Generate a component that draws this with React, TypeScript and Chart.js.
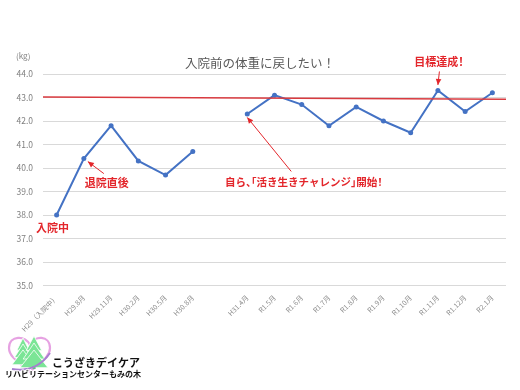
import React, { useEffect, useRef } from "react";
import { Chart, registerables } from "chart.js";

Chart.register(...registerables);

const categories = [
  "H29（入院中）", "H29.8月", "H29.11月", "H30.2月", "H30.5月", "H30.8月", "",
  "H31.4月", "R1.5月", "R1.6月", "R1.7月", "R1.8月", "R1.9月", "R1.10月", "R1.11月", "R1.12月", "R2.1月",
];
const weights = [38.0, 40.4, 41.8, 40.3, 39.7, 40.7, null, 42.3, 43.1, 42.7, 41.8, 42.6, 42.0, 41.5, 43.3, 42.4, 43.2];
const yMin = 35;
const yMax = 44;
const yStep = 1;
const targetStart = 43.02;
const targetEnd = 42.93;
const titleText = "入院前の体重に戻したい！";
const unitText = "(kg)";
const noteTexts = ["入院中", "退院直後", "自ら、「活き生きチャレンジ」開始！", "目標達成！"];
const noteIndexes = [0, 1, 7, 14];
const logoName = "こうざきデイケア";
const logoSub = "リハビリテーションセンターもみの木";

const FONT = "'Noto Sans CJK JP', 'Noto Sans', sans-serif";
const RED = "#e3262b";

function drawKerned(ctx: CanvasRenderingContext2D, text: string, cx: number, cy: number, size: number) {
  const half = new Set(["、", "「", "」", "！"]);
  let total = 0;
  const items = [...text].map((ch) => {
    const w = ctx.measureText(ch).width;
    const adv = half.has(ch) ? size * 0.5 : w;
    total += adv;
    return { ch, adv };
  });
  let xx = cx - total / 2;
  ctx.textAlign = "left";
  for (const it of items) {
    let dx = 0;
    if (it.ch === "「") dx = -size * 0.5;
    else if (it.ch === "！") dx = -size * 0.25;
    ctx.fillText(it.ch, xx + dx, cy);
    xx += it.adv;
  }
}

function drawArrow(ctx: CanvasRenderingContext2D, x1: number, y1: number, x2: number, y2: number) {
  ctx.beginPath();
  ctx.moveTo(x1, y1);
  ctx.lineTo(x2, y2);
  ctx.stroke();
  const a = Math.atan2(y2 - y1, x2 - x1);
  const L = 6, W = 2.8;
  ctx.beginPath();
  ctx.moveTo(x2, y2);
  ctx.lineTo(x2 - L * Math.cos(a) + W * Math.sin(a), y2 - L * Math.sin(a) - W * Math.cos(a));
  ctx.lineTo(x2 - L * Math.cos(a) - W * Math.sin(a), y2 - L * Math.sin(a) + W * Math.cos(a));
  ctx.closePath();
  ctx.fill();
}

function drawTree(ctx: CanvasRenderingContext2D, cx: number, top: number, h: number, w: number) {
  const tiers = 3;
  for (let i = 0; i < tiers; i++) {
    const apex = top + i * h * 0.22;
    const base = top + h * (0.45 + i * 0.27);
    const hw = (w / 2) * (0.55 + i * 0.225);
    ctx.beginPath();
    ctx.moveTo(cx, apex);
    ctx.lineTo(cx - hw, base);
    ctx.lineTo(cx + hw, base);
    ctx.closePath();
    ctx.fill();
    ctx.stroke();
  }
}

const overlayPlugin = {
  id: "overlay",
  afterDraw(chart: any) {
    const { ctx, chartArea, scales } = chart;
    const xs = scales.x;
    const ys = scales.y;
    const px = (i: number) => xs.getPixelForValue(i);
    const py = (i: number) => ys.getPixelForValue(weights[i] as number);
    ctx.save();

    // target line
    ctx.strokeStyle = "#d93a3f";
    ctx.lineWidth = 1.5;
    ctx.beginPath();
    ctx.moveTo(chartArea.left, ys.getPixelForValue(targetStart));
    ctx.lineTo(chartArea.right, ys.getPixelForValue(targetEnd));
    ctx.stroke();

    // title
    ctx.fillStyle = "#595959";
    ctx.font = `12.5px ${FONT}`;
    ctx.textAlign = "center";
    ctx.textBaseline = "middle";
    ctx.fillText(titleText, 260, 63);

    // unit
    ctx.fillStyle = "#7f7f7f";
    ctx.font = `8px ${FONT}`;
    ctx.textAlign = "left";
    ctx.fillText(unitText, 16, 56);

    // notes
    ctx.fillStyle = RED;
    ctx.strokeStyle = RED;
    ctx.lineWidth = 1;
    ctx.textBaseline = "middle";
    const size = 11;
    ctx.font = `bold ${size}px ${FONT}`;
    // 入院中
    {
      const i = noteIndexes[0];
      ctx.textAlign = "center";
      ctx.fillText(noteTexts[0], px(i) - 4, py(i) + 13);
    }
    // 退院直後
    {
      const i = noteIndexes[1];
      ctx.textAlign = "center";
      ctx.fillText(noteTexts[1], px(i) + 23, py(i) + 24.5);
      drawArrow(ctx, px(i) + 20, py(i) + 15, px(i) + 4, py(i) + 3);
    }
    // 自ら
    {
      const i = noteIndexes[2];
      ctx.font = `bold 10.5px ${FONT}`;
      drawKerned(ctx, noteTexts[2], px(i) + 56.5, py(i) + 68.5, 10.5);
      drawArrow(ctx, px(i) + 44, py(i) + 57.5, px(i), py(i) + 3.5);
    }
    // 目標達成
    {
      const i = noteIndexes[3];
      ctx.font = `bold 11px ${FONT}`;
      drawKerned(ctx, noteTexts[3], px(i) + 1, py(i) - 29, 11);
      drawArrow(ctx, px(i) + 1.5, py(i) - 19, px(i), py(i) - 5.5);
    }

    // logo
    ctx.lineJoin = "round";
    ctx.strokeStyle = "#e6a2e2";
    ctx.lineWidth = 2.2;
    ctx.beginPath();
    ctx.moveTo(30, 345);
    ctx.bezierCurveTo(26, 335, 9, 335, 9, 348);
    ctx.bezierCurveTo(9, 358, 22, 364, 30, 372);
    ctx.bezierCurveTo(38, 364, 50, 358, 50, 348);
    ctx.bezierCurveTo(50, 335, 34, 335, 30, 345);
    ctx.stroke();

    ctx.fillStyle = "#7be596";
    ctx.strokeStyle = "#ffffff";
    ctx.lineWidth = 0.8;
    drawTree(ctx, 23, 338, 27, 22);
    drawTree(ctx, 34, 336, 32, 28);
    ctx.fillStyle = "#5bc97a";
    ctx.fillRect(32.5, 366, 3, 3);

    ctx.strokeStyle = "#a77fd0";
    ctx.lineWidth = 2;
    ctx.beginPath();
    ctx.moveTo(12, 369);
    ctx.quadraticCurveTo(36, 373, 50, 353);
    ctx.stroke();

    ctx.fillStyle = "#111111";
    ctx.strokeStyle = "#ffffff";
    ctx.lineWidth = 2;
    ctx.textAlign = "left";
    ctx.textBaseline = "middle";
    ctx.font = `bold 11px ${FONT}`;
    ctx.strokeText(logoName, 52, 363);
    ctx.fillText(logoName, 52, 363);
    ctx.font = `bold 8px ${FONT}`;
    ctx.strokeText(logoSub, 5, 373.5);
    ctx.fillText(logoSub, 5, 373.5);

    ctx.restore();
  },
};

export default function App() {
  const ref = useRef<HTMLCanvasElement | null>(null);
  useEffect(() => {
    if (!ref.current) return;
    const chart = new Chart(ref.current, {
      type: "line",
      data: {
        labels: categories,
        datasets: [
          {
            data: weights,
            borderColor: "#4472c4",
            backgroundColor: "#4472c4",
            borderWidth: 2,
            pointRadius: 2.5,
            pointBorderWidth: 0,
            pointBackgroundColor: "#4472c4",
            tension: 0,
            spanGaps: false,
          },
        ],
      },
      options: {
        responsive: false,
        animation: false,
        layout: { padding: { top: 74, right: 14, bottom: 0, left: 0 } },
        plugins: { legend: { display: false }, title: { display: false }, tooltip: { enabled: false } },
        scales: {
          x: {
            offset: true,
            grid: { display: false, drawTicks: false },
            border: { display: false },
            ticks: {
              autoSkip: false,
              maxRotation: 45,
              minRotation: 45,
              padding: 8,
              color: "#8c8c8c",
              font: { size: 7, family: FONT },
            },
            afterFit: (s: any) => {
              s.height = 104.5;
            },
          },
          y: {
            min: yMin,
            max: yMax,
            grid: { color: "#d9d9d9", drawTicks: false, lineWidth: 1 },
            border: { display: false },
            ticks: {
              stepSize: yStep,
              padding: 10,
              color: "#7f7f7f",
              font: { size: 8.5, family: FONT },
              callback: (v: any) => Number(v).toFixed(1),
            },
            afterFit: (s: any) => {
              s.width = 43;
            },
          },
        },
      },
      plugins: [overlayPlugin],
    });
    return () => chart.destroy();
  }, []);
  return (
    <div style={{ position: "absolute", left: 0, top: 0, width: 520, height: 390, background: "#fff" }}>
      <canvas ref={ref} width={520} height={390} style={{ display: "block" }} />
    </div>
  );
}
